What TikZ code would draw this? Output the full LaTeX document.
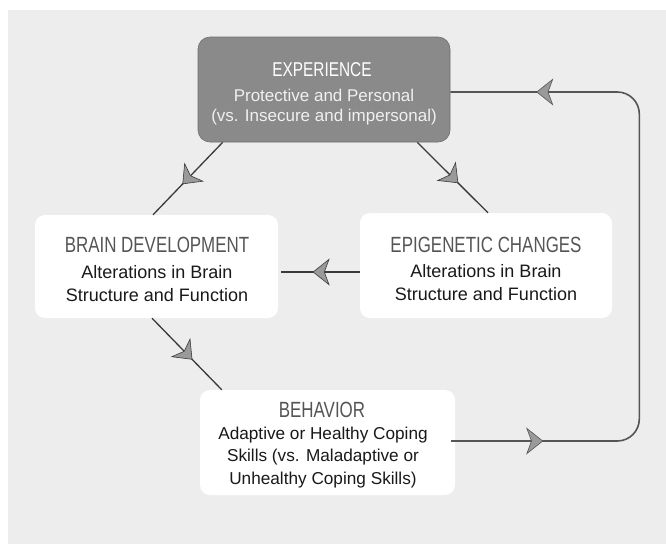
\documentclass[tikz,border=0pt]{standalone}
\usepackage{fontspec}
\setmainfont{Liberation Sans}
\newfontfamily\condfont[FakeStretch=0.77]{Liberation Sans}
\usetikzlibrary{arrows.meta,decorations.markings,calc}
\definecolor{bgstip}{HTML}{EDEDED}
\definecolor{expfill}{HTML}{8A8A8A}
\definecolor{titlegray}{HTML}{555555}
\definecolor{linegray}{HTML}{3A3A3A}
\definecolor{loopgray}{HTML}{555555}
\definecolor{headgray}{HTML}{9A9A9A}
\tikzset{
  whitebox/.style={draw=none, fill=white, rounded corners=10pt, inner sep=0pt},
  expbox/.style={fill=expfill, draw=expfill!80!black, line width=0.6pt, rounded corners=12pt, inner sep=0pt},
  ttl/.style={font=\condfont\fontsize{22}{22}\selectfont, text=titlegray, inner sep=0pt},
  body/.style={font=\fontsize{18}{23}\selectfont, align=center, text=black!90, inner sep=0pt},
  smallbody/.style={font=\fontsize{17.2}{22.5}\selectfont, align=center, text=black!90, inner sep=0pt},
  conn/.style={draw=linegray, line width=1.3pt},
  loopline/.style={draw=loopgray, line width=1.6pt},
  headtip/.tip={Stealth[length=17pt,width=27pt,inset=5pt,fill=headgray,line width=0.6pt]},
  midhead/.style={postaction={decorate}, decoration={markings, mark=at position #1 with {\arrow{headtip}}}},
  loopheads/.style={postaction={decorate}, decoration={markings,
      mark=at position 92pt with {\arrow{headtip}},
      mark=at position -86pt with {\arrow{headtip}}}},
}
\begin{document}
\begin{tikzpicture}[x=1pt,y=-1pt]
\useasboundingbox (0,0) rectangle (666,544);
\fill[bgstip] (8,10) rectangle (666,544);

% boxes
\node[expbox, minimum width=252pt, minimum height=105pt] (exp) at (324,89.5) {};
\node[whitebox, minimum width=243pt, minimum height=103pt] (brain) at (156.5,266.5) {};
\node[whitebox, minimum width=252pt, minimum height=105pt] (epi) at (486,265.5) {};
\node[whitebox, minimum width=255pt, minimum height=105pt] (beh) at (327.5,442.5) {};

% texts
\node[font=\condfont\fontsize{20}{20}\selectfont, text=white, inner sep=0pt] (expt) at (322,70) {EXPERIENCE};
\node[font=\fontsize{17}{20}\selectfont, text=white!88!gray, align=center, inner sep=0pt] (exps) at (324,107) {Protective and Personal\\(vs. Insecure and impersonal)};

\node[ttl] (braint) at (157,245) {BRAIN DEVELOPMENT};
\node[body] (brainb) at (157,283.5) {Alterations in Brain\\Structure and Function};

\node[ttl] (epit) at (486,245) {EPIGENETIC CHANGES};
\node[body] (epib) at (486,283) {Alterations in Brain\\Structure and Function};

\node[ttl] (beht) at (322,410) {BEHAVIOR};
\node[smallbody] (behb) at (323,457.5) {Adaptive or Healthy Coping\\Skills (vs. Maladaptive or\\Unhealthy Coping Skills)};

% connector end points
\coordinate (a1) at ($(exp.south west)+(25,0)$);
\coordinate (a2) at ($(brain.north)+(-3.5,0)$);
\coordinate (b1) at ($(exp.south east)+(-33,0)$);
\coordinate (b2) at ($(epi.north)+(2,0)$);
\coordinate (c1) at ($(brain.south)+(-4.5,0)$);
\coordinate (c2) at ($(beh.north west)+(22,0)$);
\coordinate (d1) at ($(epi.west)+(0,6.5)$);
\coordinate (d2) at ($(brain.east)+(3,5.5)$);
\coordinate (l1) at ($(beh.east)+(-4,-1.5)$);
\coordinate (l2) at ($(exp.east)+(0,2.5)$);

\draw[conn, midhead=0.58] (a1) -- (a2);
\draw[conn, midhead=0.58] (b1) -- (b2);
\draw[conn, midhead=0.58] (c1) -- (c2);
\draw[conn, midhead=0.6] (d1) -- (d2);
\draw[loopline, rounded corners=22pt, loopheads] (l1) -| ($(l2)+(189,0)$) -- (l2);
\end{tikzpicture}
\end{document}
